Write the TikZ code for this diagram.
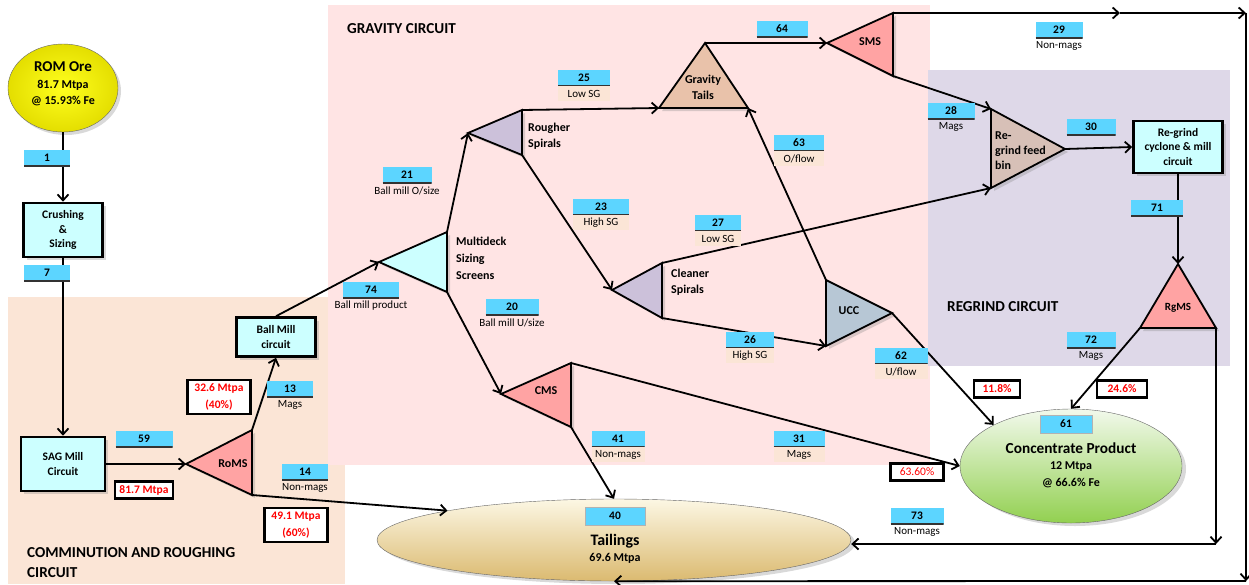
\documentclass[tikz,border=0pt]{standalone}
\usepackage{fontspec}
\setmainfont{Carlito}
\usetikzlibrary{arrows.meta, positioning, shapes.geometric, shadows}
\definecolor{numblue}{RGB}{92,213,255}
\definecolor{millcyan}{RGB}{204,255,255}
\definecolor{gravbg}{RGB}{255,228,228}
\definecolor{peachbg}{RGB}{251,229,214}
\definecolor{lavbg}{RGB}{222,216,232}
\definecolor{msred}{RGB}{255,163,163}
\definecolor{spiral}{RGB}{204,193,218}
\definecolor{gtail}{RGB}{233,194,170}
\definecolor{binfill}{RGB}{215,192,183}
\definecolor{uccfill}{RGB}{183,199,213}

\begin{document}
\begin{tikzpicture}[x=1pt, y=-1pt,
    flow/.style={line width=1.8pt, -{Straight Barb[length=6pt,width=11pt]}},
    tri/.style={draw, line width=1.8pt, line join=miter,
                drop shadow={shadow xshift=3pt, shadow yshift=-3pt, opacity=0.3}},
    trilabel/.style={font=\bfseries\fontsize{12}{16}\selectfont, align=left, inner sep=0pt},
    mill/.style={draw, line width=2.6pt, fill=millcyan, align=center, inner sep=0pt,
                 font=\bfseries\fontsize{11.5}{14.5}\selectfont,
                 drop shadow={shadow xshift=3pt, shadow yshift=-3pt, opacity=0.3}},
    num/.style={fill=numblue, minimum width=#1, minimum height=16pt, inner sep=0pt,
                font=\bfseries\fontsize{11.5}{12}\selectfont,
                path picture={\draw[line width=3pt, black!80]
                  (path picture bounding box.south west) --
                  (path picture bounding box.south east);}},
    num/.default=48pt,
    numbox/.style={fill=numblue, draw=black!30, minimum width=#1, minimum height=18pt,
                   inner sep=0pt, font=\bfseries\fontsize{11.5}{12}\selectfont},
    sub/.style={font=\fontsize{11}{12}\selectfont, inner sep=0pt, minimum height=15pt},
    subbg/.style={sub, fill=peachbg, minimum width=#1},
    pct/.style={draw, line width=2.2pt, fill=white, text=red, align=center, inner sep=0pt,
                minimum height=17pt, font=\bfseries\fontsize{11.5}{17}\selectfont},
    head/.style={font=\bfseries\fontsize{15.2}{20}\selectfont, anchor=west, align=left,
                 inner sep=0pt},
    bigtxt/.style={font=\bfseries\fontsize{12}{16.5}\selectfont, align=center, inner sep=0pt}]
  \useasboundingbox (0,0) rectangle (1249,584);

  % circuit areas
  \fill[peachbg] (8,297) rectangle (345,584);
  \fill[gravbg] (328,5) rectangle (930,465);
  \fill[lavbg] (928,70) rectangle (1230,366);
  \node[head] (hcomm) at (27,563) {COMMINUTION AND ROUGHING\\CIRCUIT};
  \node[head] (hgrav) at (347,29) {GRAVITY CIRCUIT};
  \node[head] (hregr) at (947,307) {REGRIND CIRCUIT};

  % feed, product and tailings
  \node[ellipse, minimum width=110pt, minimum height=88pt, inner sep=0pt, draw=black!60,
        inner color={rgb,255:red,255;green,255;blue,30},
        outer color={rgb,255:red,228;green,222;blue,0},
        drop shadow={shadow xshift=3pt, shadow yshift=-3pt, opacity=0.3}] (rom) at (63,88) {};
  \node[bigtxt] (romtxt) at (63,84) {{\fontsize{15}{17}\selectfont ROM Ore}\\81.7 Mtpa\\@ 15.93\% Fe};
  \node[ellipse, minimum width=222pt, minimum height=114pt, inner sep=0pt, draw=black!60,
        top color={rgb,255:red,242;green,249;blue,236},
        bottom color={rgb,255:red,146;green,208;blue,80},
        drop shadow={shadow xshift=4pt, shadow yshift=-3pt, opacity=0.3}] (conc) at (1071,466) {};
  \node[bigtxt] (conctxt) at (1071,465) {{\fontsize{15.3}{17}\selectfont Concentrate Product}\\12 Mtpa\\@ 66.6\% Fe};
  \node[ellipse, minimum width=474pt, minimum height=82pt, inner sep=0pt, draw=black!60,
        top color={rgb,255:red,252;green,247;blue,228},
        bottom color={rgb,255:red,219;green,186;blue,112},
        drop shadow={shadow xshift=4pt, shadow yshift=-3pt, opacity=0.3}] (tail) at (614,540) {};
  \node[bigtxt] (tailtxt) at (615,549) {{\fontsize{16}{17}\selectfont Tailings}\\69.6 Mtpa};
  \node[numbox=52pt] (n61) at (1066,424) {61};
  \node[numbox=60pt] (n40) at (615,516) {40};

  % mills
  \node[mill, minimum width=79pt, minimum height=54pt] (crush) at (63,230) {Crushing\\\&\\Sizing};
  \node[mill, minimum width=84pt, minimum height=54pt] (sag) at (63,464) {SAG Mill\\Circuit};
  \node[mill, minimum width=79pt, minimum height=39pt] (ballmill) at (276,337) {Ball Mill\\circuit};
  \node[mill, minimum width=89pt, minimum height=52pt] (regrind) at (1178,147) {Re-grind\\cyclone \& mill\\circuit};

  % separators
  \coordinate (roms-a) at (186,464); \coordinate (roms-t) at (252,430); \coordinate (roms-b) at (252,495);
  \draw[tri, fill=msred] (roms-a) -- (roms-t) -- (roms-b) -- cycle;
  \node[trilabel] (roms) at (233,464) {RoMS};
  \coordinate (scr-a) at (379,262); \coordinate (scr-t) at (447,232); \coordinate (scr-b) at (447,292);
  \draw[tri, fill=millcyan] (scr-a) -- (scr-t) -- (scr-b) -- cycle;
  \node[trilabel, anchor=west, font=\bfseries\fontsize{12}{17}\selectfont] (scr) at (456,258) {Multideck\\Sizing\\Screens};
  \coordinate (rough-a) at (468,133); \coordinate (rough-t) at (522,110); \coordinate (rough-b) at (522,155);
  \draw[tri, fill=spiral] (rough-a) -- (rough-t) -- (rough-b) -- cycle;
  \node[trilabel, anchor=west] (rough) at (528,136) {Rougher\\Spirals};
  \coordinate (clean-a) at (612,290); \coordinate (clean-t) at (662,263); \coordinate (clean-b) at (662,318);
  \draw[tri, fill=spiral] (clean-a) -- (clean-t) -- (clean-b) -- cycle;
  \node[trilabel, anchor=west] (clean) at (671,282) {Cleaner\\Spirals};
  \coordinate (cms-a) at (501,394); \coordinate (cms-t) at (571,363); \coordinate (cms-b) at (571,427);
  \draw[tri, fill=msred] (cms-a) -- (cms-t) -- (cms-b) -- cycle;
  \node[trilabel] (cms) at (546,391) {CMS};
  \coordinate (gt-a) at (705,43); \coordinate (gt-l) at (659,108); \coordinate (gt-r) at (748,108);
  \draw[tri, fill=gtail] (gt-a) -- (gt-l) -- (gt-r) -- cycle;
  \node[trilabel, align=center] (gt) at (703,87) {Gravity\\Tails};
  \coordinate (sms-a) at (827,43); \coordinate (sms-t) at (893,13); \coordinate (sms-b) at (893,76);
  \draw[tri, fill=msred] (sms-a) -- (sms-t) -- (sms-b) -- cycle;
  \node[trilabel] (sms) at (870,42) {SMS};
  \coordinate (ucc-t) at (826,280); \coordinate (ucc-b) at (826,346); \coordinate (ucc-a) at (892,313);
  \draw[tri, fill=uccfill] (ucc-t) -- (ucc-a) -- (ucc-b) -- cycle;
  \node[trilabel] (ucc) at (849,311) {UCC};
  \coordinate (bin-t) at (991,109); \coordinate (bin-b) at (991,188); \coordinate (bin-a) at (1065,149);
  \draw[tri, fill=binfill] (bin-t) -- (bin-a) -- (bin-b) -- cycle;
  \node[trilabel, anchor=west, font=\bfseries\fontsize{12}{15}\selectfont] (bin) at (995,151) {Re-\\grind feed\\bin};
  \coordinate (rgms-a) at (1178,264); \coordinate (rgms-l) at (1140,328); \coordinate (rgms-r) at (1216,328);
  \draw[tri, fill=msred] (rgms-a) -- (rgms-l) -- (rgms-r) -- cycle;
  \node[trilabel, font=\bfseries\fontsize{11}{16}\selectfont] (rgms) at (1178,308) {RgMS};

  % streams
  \draw[flow] (rom.south) -- (crush.north);
  \draw[flow] (crush.south) -- (sag.north);
  \draw[flow] (sag.east) -- (roms-a);
  \draw[flow] (roms-t) -- (ballmill.south);
  \draw[flow] (roms-b) -- (tail.170);
  \draw[flow] (ballmill.north) -- (scr-a);
  \draw[flow] (scr-t) -- (rough-a);
  \draw[flow] (scr-b) -- (cms-a);
  \draw[flow] (rough-t) -- (gt-l);
  \draw[flow] (rough-b) -- (clean-a);
  \draw[flow] (gt-a) -- (sms-a);
  \coordinate (c29m) at (1120,13);
  \coordinate (c29) at (1246,13);
  \coordinate (c29b) at (1246,581);
  \draw[flow] (sms-t) -- (c29m);
  \draw[flow] (c29m) -- (c29);
  \draw[flow] (c29) -- (c29b);
  \draw[flow] (c29b) -- (tail.south);
  \draw[flow] (sms-b) -- (bin-t);
  \draw[flow] (clean-t) -- (bin-b);
  \draw[flow] (clean-b) -- (ucc-b);
  \draw[flow] (ucc-t) -- (gt-r);
  \draw[flow] (ucc-a) -- (conc.152);
  \draw[flow] (cms-t) -- (conc.west);
  \draw[flow] (cms-b) -- (tail.north);
  \draw[flow] (bin-a) -- (regrind.west);
  \draw[flow] (regrind.south) -- (rgms-a);
  \draw[flow] (rgms-l) -- (conc.north);
  \coordinate (c73) at (1216,544);
  \draw[flow] (rgms-r) -- (c73);
  \draw[flow] (c73) -- (c73 -| tail.east);

  % stream numbers
  \foreach \n/\x/\y/\w in {1/47/158/46pt, 7/47/273/46pt, 59/144/439/57pt, 13/290/389/46pt,
      14/305/472/46pt, 74/371/290/56pt, 21/407/175/49pt, 20/512/307/53pt, 25/584/78/52pt,
      23/601/207/56pt, 27/718/223/46pt, 26/750/340/48pt, 63/799/143/50pt, 64/782/29/51pt,
      62/901/356/53pt, 41/618/439/53pt, 31/799/439/51pt, 29/1059/30/47pt, 28/951/111/47pt,
      30/1091/127/49pt, 71/1157/208/52pt, 72/1091/340/49pt, 73/917/516/53pt}
    \node[num=\w] (n\n) at (\x,\y) {\n};
  \foreach \n/\t in {13/Mags, 14/Non-mags, 74/Ball mill product, 29/Non-mags, 28/Mags,
      72/Mags, 73/Non-mags}
    \node[sub, below=0pt of n\n] (s\n) {\t};
  \node[sub, below=0pt of n21] (s21) {Ball mill O/size};
  \node[sub, below=0pt of n20] (s20) {Ball mill U/size};
  \foreach \n/\t/\w in {25/Low SG/52pt, 23/High SG/56pt, 27/Low SG/46pt, 26/High SG/48pt,
      41/Non-mags/53pt, 31/Mags/51pt}
    \node[subbg=\w, below=0pt of n\n] (s\n) {\t};
  \node[subbg=50pt, below=0pt of n63] (s63) {O/flow};
  \node[subbg=53pt, below=0pt of n62] (s62) {U/flow};

  % mass splits
  \node[pct, minimum width=58pt] (p59) at (144,490) {81.7 Mtpa};
  \node[pct, minimum width=63pt, minimum height=34pt] (p13) at (219,397) {32.6 Mtpa\\(40\%)};
  \node[pct, minimum width=63pt, minimum height=34pt] (p14) at (296,525) {49.1 Mtpa\\(60\%)};
  \node[pct, minimum width=53pt, font=\fontsize{11.5}{12}\selectfont] (p31) at (917,472) {63.60\%};
  \node[pct, minimum width=46pt] (p62) at (997,389) {11.8\%};
  \node[pct, minimum width=50pt] (p72) at (1122,389) {24.6\%};
\end{tikzpicture}
\end{document}
